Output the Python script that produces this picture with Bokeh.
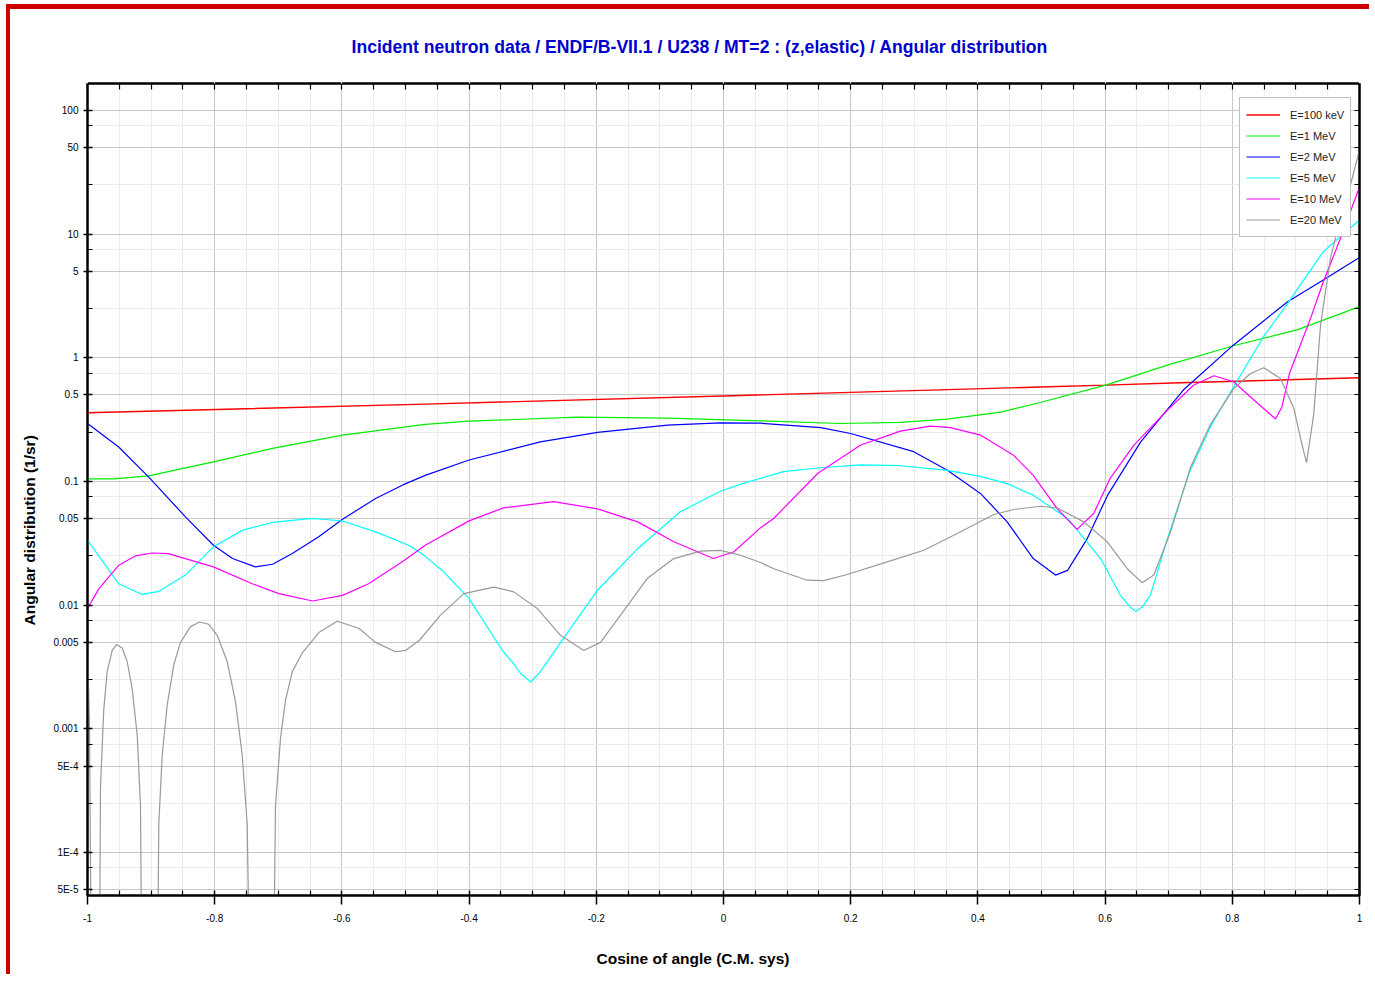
from bokeh.plotting import figure
from bokeh.models import (FixedTicker, LinearAxis, LogAxis, Legend, LegendItem,
                          Title, Range1d)
from bokeh.embed import file_html
from bokeh.resources import INLINE

# ---------------- data ----------------
title_text = ("Incident neutron data / ENDF/B-VII.1 / U238 / MT=2 : "
              "(z,elastic) / Angular distribution")
x_title = "Cosine of angle (C.M. sys)"
y_title = "Angular distribution (1/sr)"

labels = ["E=100 keV", "E=1 MeV", "E=2 MeV", "E=5 MeV", "E=10 MeV", "E=20 MeV"]
colors = ["#ff0000", "#00ee00", "#0000ff", "#00ffff", "#ff00ff", "#999999"]

mu_100keV = [-1.0, -0.469, 0.027, 0.498, 0.601, 0.719, 1.0]
f_100keV = [0.359, 0.422, 0.496, 0.58, 0.601, 0.628, 0.689]

mu_1MeV = [-1.0, -0.959, -0.904, -0.802, -0.709, -0.599, -0.469, -0.40, -0.23,
           -0.088, 0.058, 0.184, 0.278, 0.352, 0.436, 0.498, 0.601, 0.698,
           0.802, 0.902, 1.0]
f_1MeV = [0.105, 0.105, 0.111, 0.144, 0.185, 0.237, 0.289, 0.307, 0.331,
          0.325, 0.309, 0.294, 0.300, 0.319, 0.363, 0.435, 0.601, 0.873,
          1.25, 1.68, 2.59]

mu_2MeV = [-1.0, -0.951, -0.904, -0.846, -0.802, -0.772, -0.736, -0.709, -0.678,
           -0.637, -0.599, -0.547, -0.505, -0.469, -0.40, -0.288, -0.198, -0.088,
           -0.005, 0.058, 0.153, 0.2, 0.299, 0.352, 0.404, 0.446, 0.487, 0.522,
           0.541, 0.572, 0.604, 0.656, 0.723, 0.802, 0.887, 0.943, 1.0]
f_2MeV = [0.294, 0.19, 0.109, 0.0517, 0.0305, 0.0238, 0.0204, 0.0214, 0.0261,
          0.0356, 0.0495, 0.0727, 0.0933, 0.112, 0.149, 0.209, 0.249, 0.285,
          0.298, 0.296, 0.272, 0.244, 0.174, 0.123, 0.080, 0.0471, 0.0238, 0.0175,
          0.0191, 0.0345, 0.0775, 0.209, 0.548, 1.27, 2.84, 4.25, 6.48]

mu_5MeV = [-1.0, -0.951, -0.914, -0.888, -0.846, -0.802, -0.756, -0.709, -0.646,
           -0.599, -0.547, -0.495, -0.472, -0.44, -0.40, -0.346, -0.33, -0.319,
           -0.303, -0.288, -0.272, -0.256, -0.198, -0.135, -0.068, -0.005, 0.027,
           0.094, 0.153, 0.215, 0.278, 0.352, 0.404, 0.446, 0.487, 0.541, 0.593,
           0.624, 0.640, 0.648, 0.658, 0.671, 0.698, 0.733, 0.766, 0.802, 0.849,
           0.887, 0.943, 1.0]
f_5MeV = [0.0335, 0.0149, 0.0122, 0.0129, 0.0175, 0.0296, 0.0404, 0.0466, 0.0502,
          0.0479, 0.0391, 0.0305, 0.0255, 0.0186, 0.0113, 0.00418, 0.00336, 0.0028,
          0.00239, 0.0029, 0.0038, 0.005, 0.0132, 0.0286, 0.0568, 0.0834, 0.0951,
          0.120, 0.129, 0.136, 0.134, 0.123, 0.110, 0.096, 0.0775, 0.0502, 0.0238,
          0.012, 0.0096, 0.0089, 0.0096, 0.012, 0.0345, 0.12, 0.28, 0.58, 1.48,
          2.75, 7.2, 13.0]

mu_10MeV = [-1.0, -0.982, -0.951, -0.925, -0.898, -0.873, -0.802, -0.741, -0.699,
            -0.646, -0.599, -0.558, -0.505, -0.469, -0.40, -0.346, -0.267, -0.198,
            -0.135, -0.078, -0.016, 0.016, 0.058, 0.079, 0.148, 0.215, 0.278, 0.325,
            0.357, 0.404, 0.456, 0.487, 0.525, 0.556, 0.582, 0.608, 0.645, 0.698,
            0.739, 0.771, 0.802, 0.834, 0.868, 0.878, 0.89, 0.907, 0.923, 0.943,
            0.970, 1.0]
f_10MeV = [0.0094, 0.0136, 0.021, 0.025, 0.0264, 0.0261, 0.0204, 0.0149, 0.0124,
           0.0108, 0.012, 0.0149, 0.0224, 0.0305, 0.048, 0.0611, 0.0687, 0.060,
           0.0471, 0.0325, 0.0238, 0.0269, 0.0421, 0.0502, 0.116, 0.196, 0.255, 0.28,
           0.272, 0.237, 0.163, 0.112, 0.06, 0.041, 0.055, 0.106, 0.196, 0.377,
           0.6, 0.715, 0.64, 0.455, 0.32, 0.4, 0.75, 1.27, 2.08, 4.1,
           9.2, 24.0]

# 20 MeV: the distribution crosses zero (negative lobes), shown as ~0 (1e-6)
mu_20MeV = [-1.0, -0.9969, -0.9926, -0.9822, -0.9796, -0.9744, -0.969, -0.9612,
            -0.9544, -0.9454, -0.9376, -0.9297, -0.9218, -0.9167, -0.9131, -0.8915,
            -0.8879, -0.8825, -0.8747, -0.8643, -0.8538, -0.8381, -0.8239, -0.8093,
            -0.7961, -0.7803, -0.7673, -0.7568, -0.7489, -0.7421, -0.7096, -0.7044,
            -0.6965, -0.6887, -0.678, -0.6624, -0.6363, -0.6074, -0.5734, -0.5472,
            -0.5157, -0.5, -0.478, -0.445, -0.4083, -0.3612, -0.3297, -0.2929,
            -0.2563, -0.2197, -0.1934, -0.1619, -0.12, -0.0781, -0.0362, -0.0047,
            0.0267, 0.0582, 0.0791, 0.1316, 0.1577, 0.1945, 0.2574, 0.3149, 0.3675,
            0.425, 0.4564, 0.4984, 0.5247, 0.5665, 0.6033, 0.6348, 0.6583, 0.6766,
            0.7028, 0.7343, 0.7657, 0.8024, 0.8286, 0.8495, 0.8758, 0.8967, 0.9099,
            0.9167, 0.9281, 0.9387, 0.9544, 0.9701, 0.9858, 1.0]
f_20MeV = [0.0048, 0.0011, 1e-6, 1e-6, 3.3e-4, 0.00145, 0.0029, 0.0043,
           0.0048, 0.0045, 0.0035, 0.0021, 8.9e-4, 2.4e-4, 1e-6, 1e-6,
           1.7e-4, 6.2e-4, 0.00155, 0.0033, 0.005, 0.0067, 0.0073, 0.007,
           0.0057, 0.0035, 0.00165, 6.2e-4, 1.7e-4, 1e-6, 1e-6, 2.4e-4,
           8.4e-4, 0.0017, 0.0029, 0.0041, 0.006, 0.0074, 0.0065, 0.005,
           0.0042, 0.0043, 0.0052, 0.0083, 0.0124, 0.014, 0.0128, 0.0094,
           0.0057, 0.0043, 0.005, 0.0083, 0.0164, 0.0238, 0.0273, 0.0277,
           0.0253, 0.0221, 0.0197, 0.0159, 0.0158, 0.0177, 0.0224, 0.0278, 0.0379,
           0.054, 0.0593, 0.063, 0.061, 0.0471, 0.0325, 0.0197, 0.0152, 0.0175,
           0.039, 0.13, 0.29, 0.565, 0.746, 0.83, 0.68, 0.39, 0.196,
           0.142, 0.35, 1.84, 6.4, 13.4, 25.0, 48.0]

series_mu = [mu_100keV, mu_1MeV, mu_2MeV, mu_5MeV, mu_10MeV, mu_20MeV]
series_f = [f_100keV, f_1MeV, f_2MeV, f_5MeV, f_10MeV, f_20MeV]

x_major = [-1.0, -0.8, -0.6, -0.4, -0.2, 0.0, 0.2, 0.4, 0.6, 0.8, 1.0]
x_labels = ["-1", "-0.8", "-0.6", "-0.4", "-0.2", "0", "0.2", "0.4", "0.6", "0.8", "1"]
x_minor = [-0.95, -0.9, -0.85, -0.75, -0.7, -0.65, -0.55, -0.5, -0.45, -0.35, -0.3,
           -0.25, -0.15, -0.1, -0.05, 0.05, 0.1, 0.15, 0.25, 0.3, 0.35, 0.45, 0.5,
           0.55, 0.65, 0.7, 0.75, 0.85, 0.9, 0.95]
y_major = [5e-5, 1e-4, 5e-4, 1e-3, 5e-3, 1e-2, 5e-2, 1e-1, 0.5, 1.0, 5.0, 10.0, 50.0, 100.0]
y_labels = ["5E-5", "1E-4", "5E-4", "0.001", "0.005", "0.01", "0.05", "0.1", "0.5",
            "1", "5", "10", "50", "100"]
y_minor = [7.5e-5, 2.5e-4, 7.5e-4, 2.5e-3, 7.5e-3, 0.025, 0.075, 0.25, 0.75,
           2.5, 7.5, 25.0, 75.0]

FONT = "Liberation Sans"

p = figure(width=1363, height=970, x_range=Range1d(-1, 1),
           y_range=Range1d(4.49e-5, 165), y_axis_type="log",
           output_backend="svg", toolbar_location=None,
           min_border_left=77, min_border_right=14, min_border_top=74,
           min_border_bottom=84)
p.styles = {"margin-left": "6px", "margin-top": "4px",
            "border-left": "4px solid #cc0000", "border-top": "5px solid #cc0000"}
p.background_fill_color = "white"
p.border_fill_color = "white"
p.outline_line_color = "black"
p.outline_line_width = 2

# axes
xa = p.xaxis[0]
xa.ticker = FixedTicker(ticks=x_major, minor_ticks=x_minor)
xa.major_label_overrides = {v: s for v, s in zip(x_major, x_labels)}
ya = p.yaxis[0]
ya.ticker = FixedTicker(ticks=y_major, minor_ticks=y_minor)
ya.major_label_overrides = {v: s for v, s in zip(y_major, y_labels)}

for ax in (xa, ya):
    ax.axis_line_width = 2
    ax.axis_line_color = "black"
    ax.major_tick_line_color = "black"
    ax.minor_tick_line_color = "black"
    ax.major_tick_line_width = 1.5
    ax.minor_tick_line_width = 1.2
    ax.major_label_text_font = FONT
    ax.major_label_text_font_size = "10px"
    ax.major_label_text_color = "black"
xa.major_tick_in = 5
xa.major_tick_out = 9
xa.minor_tick_in = 5
xa.minor_tick_out = 0
xa.major_label_standoff = 9
ya.major_tick_in = 5
ya.major_tick_out = 4
ya.minor_tick_in = 5
ya.minor_tick_out = 0
ya.major_label_standoff = 5

# mirrored tick marks on top and right (no labels)
top = LinearAxis(ticker=FixedTicker(ticks=x_major, minor_ticks=x_minor),
                 major_label_text_font_size="0px", major_label_text_color=None,
                 major_tick_in=6, major_tick_out=0, minor_tick_in=6, minor_tick_out=0,
                 axis_line_width=2, major_tick_line_width=1.2,
                 minor_tick_line_width=1.2, major_label_standoff=0)
p.add_layout(top, "above")
right = LogAxis(ticker=FixedTicker(ticks=y_major, minor_ticks=y_minor),
                major_label_text_font_size="0px", major_label_text_color=None,
                major_tick_in=5, major_tick_out=0, minor_tick_in=5, minor_tick_out=0,
                axis_line_width=2, major_tick_line_width=1.2,
                minor_tick_line_width=1.2, major_label_standoff=0)
p.add_layout(right, "right")


def spacer(cls, ticks, size):
    """A blank axis (white ticks on the white border, no line, no labels)
    used only to reserve space in a side panel."""
    return cls(ticker=FixedTicker(ticks=ticks, minor_ticks=[]),
               axis_line_color=None, major_tick_line_color="white",
               major_tick_line_width=1, minor_tick_line_color=None,
               major_label_text_color=None, major_label_text_font_size="0px",
               major_tick_in=0, major_tick_out=size, minor_tick_in=0,
               minor_tick_out=0, major_label_standoff=0)


p.add_layout(spacer(LinearAxis, x_major, 27), "above")
p.add_layout(spacer(LinearAxis, x_major, 23), "below")
p.add_layout(spacer(LogAxis, y_major, 13), "left")

p.add_layout(Title(text=title_text, align="left", offset=264, standoff=0,
                   text_font=FONT, text_font_size="17.6px", text_font_style="bold",
                   text_color="#0000cc"), "above")
p.add_layout(Title(text=x_title, align="left", offset=509, standoff=0,
                   text_font=FONT, text_font_size="15.5px", text_font_style="bold",
                   text_color="black"), "below")
p.add_layout(Title(text=y_title, align="left", offset=270, standoff=0,
                   text_font=FONT, text_font_size="15.5px", text_font_style="bold",
                   text_color="black"), "left")

# grids
for g in (p.xgrid[0], p.ygrid[0]):
    g.grid_line_color = "#c8c8c8"
    g.grid_line_width = 1
    g.minor_grid_line_color = "#ececec"
    g.minor_grid_line_width = 1

# curves
items = []
for lab, col, xs, ys in zip(labels, colors, series_mu, series_f):
    r = p.line(xs, ys, line_color=col, line_width=1.4 if col == "#ff0000" else 1.2)
    items.append(LegendItem(label=lab, renderers=[r]))

legend = Legend(items=items, location=(1152, 658))
legend.border_line_color = "#808080"
legend.border_line_width = 1
legend.background_fill_color = "white"
legend.background_fill_alpha = 1
legend.label_text_font = FONT
legend.label_text_font_size = "11px"
legend.label_text_color = "#222222"
legend.glyph_width = 34
legend.glyph_height = 21
legend.label_height = 21
legend.label_standoff = 10
legend.padding = 6
legend.spacing = 0
legend.margin = 0
p.add_layout(legend)

open("out.html", "w").write(file_html(p, INLINE))
